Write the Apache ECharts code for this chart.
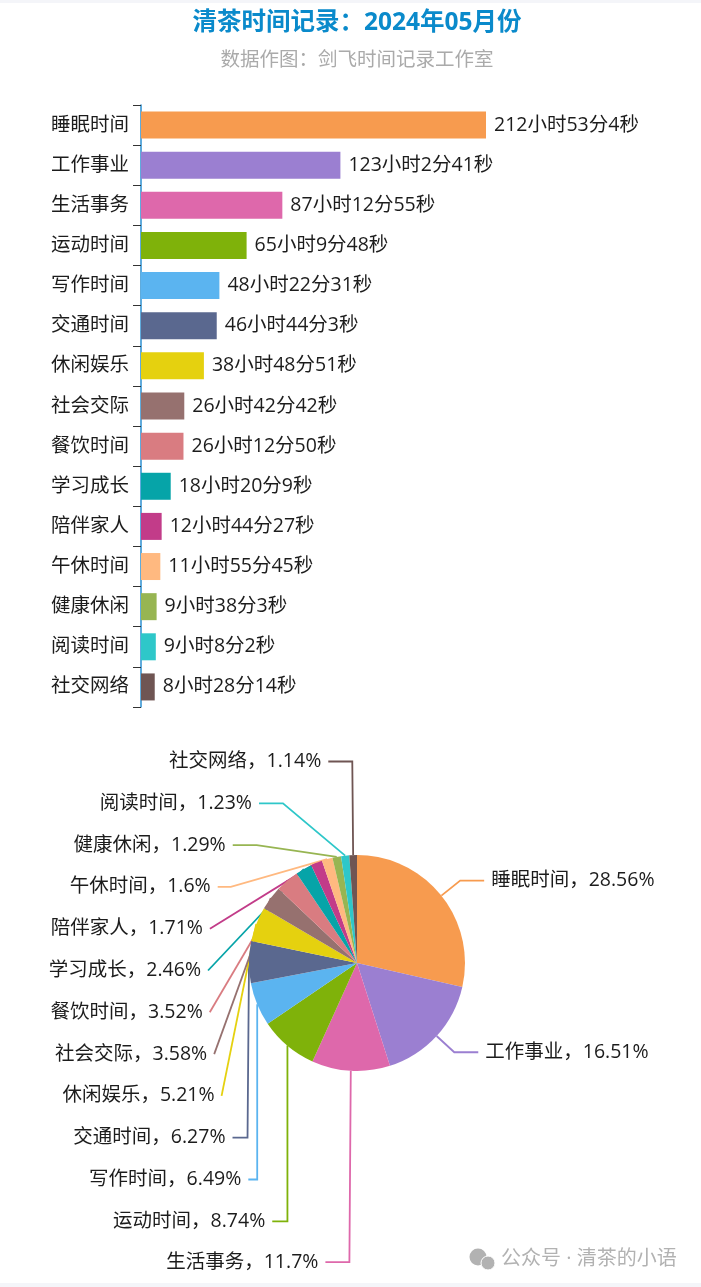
<!DOCTYPE html>
<html><head><meta charset="utf-8">
<script src="https://cdn.jsdelivr.net/npm/echarts@6/dist/echarts.min.js"></script>
<style>
html,body{margin:0;padding:0;background:#fff;overflow:hidden}
#c{position:absolute;left:0;top:0;width:701px;height:1287px}
.band{position:absolute;left:0;width:701px;background:#f4f5f9;z-index:5}
</style></head><body>
<div id="c"></div>
<div class="band" style="top:0;height:3px"></div>
<div class="band" style="top:1283px;height:4px"></div>
<script>
const categories = ["睡眠时间","工作事业","生活事务","运动时间","写作时间","交通时间","休闲娱乐","社会交际","餐饮时间","学习成长","陪伴家人","午休时间","健康休闲","阅读时间","社交网络"];
const secondsSpent = [766384,442961,313975,234588,174151,168243,139731,96162,94370,66009,45867,42945,34683,32882,30494];
const palette = ["#f79b4f","#9b7fd1","#de68ab","#7fb20a","#5bb4f0","#5a688f","#e5d10f","#96716f","#d97c81","#06a4a8","#c23c89","#ffb980","#97b552","#2ec7c9","#6f5553"];
const titleText = "清茶时间记录\uff1a2024年05月份";
const subtitleText = "数据作图\uff1a剑飞时间记录工作室";
const watermarkText = "公众号 · 清茶的小语";

const FONT = '"Open Sans","Noto Sans CJK SC",sans-serif';
const hms = s => Math.floor(s/3600)+"小时"+Math.floor(s%3600/60)+"分"+(s%60)+"秒";
const totalSeconds = secondsSpent.reduce((a,b)=>a+b,0);
const pct = s => parseFloat((s/totalSeconds*100).toFixed(2));
const chart = echarts.init(document.getElementById("c"));
chart.setOption({
  animation:false,
  backgroundColor:"#fff",
  color:palette,
  textStyle:{fontFamily:FONT},
  title:{text:titleText,subtext:subtitleText,left:352,top:6,textAlign:"center",itemGap:15,
    textStyle:{color:"#0a8acb",fontSize:24.5,fontWeight:"bold",fontFamily:FONT},
    subtextStyle:{color:"#aaaaaa",fontSize:19.5,fontFamily:FONT}},
  grid:{left:141,top:105,width:345,height:602,containLabel:false},
  xAxis:{type:"value",min:0,max:secondsSpent[0],show:false},
  yAxis:{type:"category",inverse:true,data:categories,
    axisLine:{show:true,lineStyle:{color:"#2b8fd0",width:1.5}},
    axisTick:{show:true,length:8,lineStyle:{color:"#333"}},
    axisLabel:{color:"#1c1c1c",fontSize:19.5,margin:12,fontFamily:FONT}},
  series:[
    {type:"bar",barWidth:27,data:secondsSpent.map((v,i)=>({value:v,itemStyle:{color:palette[i]}})),
      label:{show:true,position:"right",distance:8,color:"#1c1c1c",fontSize:19.5,fontFamily:FONT,formatter:p=>hms(p.value)}},
    {type:"pie",left:0,top:0,width:701,height:1284,center:[357,963],radius:[0,108],startAngle:90,clockwise:true,
      data:categories.map((n,i)=>({name:n,value:secondsSpent[i],itemStyle:{color:palette[i]}})),
      label:{show:true,formatter:p=>p.name+"\uff0c"+pct(p.value)+"%",color:"#1c1c1c",fontSize:19.5,lineHeight:39.8,fontFamily:FONT,distanceToLabelLine:7},
      labelLine:{show:true,length:24,length2:24,smooth:false,lineStyle:{width:1.8}},
      emphasis:{disabled:true}}
  ],
  graphic:[
    {type:"circle",shape:{cx:478,cy:1257,r:8.5},style:{fill:"#b2b2b2"}},
    {type:"circle",shape:{cx:488,cy:1263,r:7},style:{fill:"#b2b2b2",stroke:"#fff",lineWidth:1}},
    {type:"text",x:501,y:1259,style:{text:watermarkText,fill:"#b2b2b2",font:'20px '+FONT,textVerticalAlign:"middle"}}
  ]
});
</script></body></html>
